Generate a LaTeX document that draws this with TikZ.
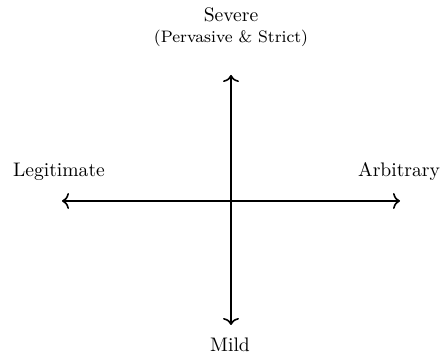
\documentclass[tikz,border=0pt]{standalone}
\usetikzlibrary{arrows.meta}
\begin{document}
\begin{tikzpicture}[x=1pt,y=1pt,
  axis/.style={line width=0.8pt,{To[length=3.5pt,width=8pt]}-{To[length=3.5pt,width=8pt]}},
  lbl/.style={inner sep=0pt,font=\fontsize{9.8}{11}\selectfont},
  sublbl/.style={inner sep=0pt,font=\fontsize{8.3}{10}\selectfont}]
\useasboundingbox (0,0) rectangle (220,178);
\coordinate (top) at (115.5,140.5);
\coordinate (bottom) at (115.5,15.5);
\coordinate (left) at (31,77.5);
\coordinate (right) at (200,77.5);
\draw[axis] (top) -- (bottom);
\draw[axis] (left) -- (right);
\node[lbl] (severe) at (115.5,170.5) {Severe};
\node[sublbl] (sub) at (115.5,159) {(Pervasive \& Strict)};
\node[lbl] (legit) at (29.5,92) {Legitimate};
\node[lbl] (arb) at (199.5,92) {Arbitrary};
\node[lbl] (mild) at (115,5.5) {Mild};
\end{tikzpicture}
\end{document}
